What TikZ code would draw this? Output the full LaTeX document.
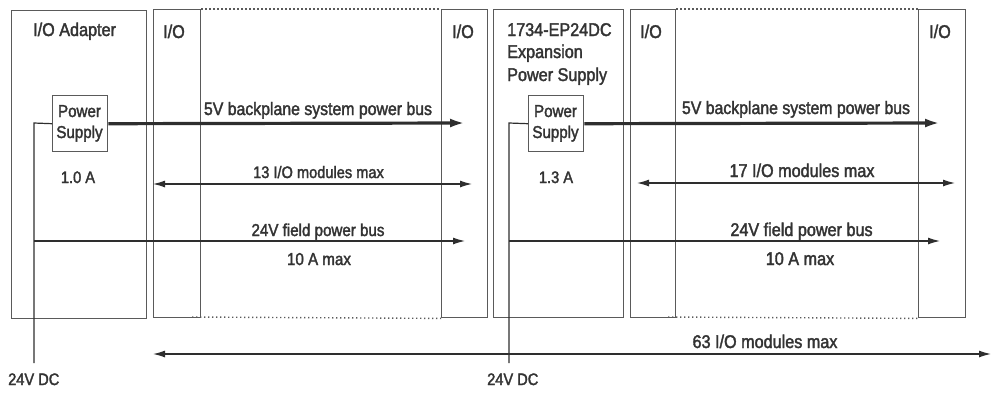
\documentclass[tikz,border=0pt]{standalone}
\usepackage{fontspec}
\newfontfamily\labelfont[FakeStretch=0.88,FakeBold=2]{Liberation Sans}
\usetikzlibrary{arrows.meta}
\definecolor{boxc}{HTML}{5A5A5A}
\definecolor{linec}{HTML}{2E2E2E}
\definecolor{txtc}{HTML}{333333}
\tikzset{
  box/.style={draw=boxc, line width=1.4pt, inner sep=0pt, anchor=north west},
  dotl/.style={draw=boxc, line width=1.4pt, dash pattern=on 1.4pt off 2.6pt},
  bus/.style={draw=linec, line width=3.2pt, -{Latex[length=15pt,width=9pt]}},
  thinl/.style={draw=linec, line width=1.2pt},
  thinar/.style={thinl, -{Latex[length=12pt,width=7pt]}},
  dblar/.style={thinl, {Latex[length=12pt,width=7pt]}-{Latex[length=12pt,width=7pt]}},
  txt/.style={inner sep=0pt, anchor=base, text=txtc, font=\labelfont\fontsize{18.4}{21}\selectfont},
  txts/.style={txt, font=\labelfont\fontsize{17.2}{20}\selectfont},
  txtm/.style={txt, font=\labelfont\fontsize{18}{21}\selectfont},
  txtd/.style={txt, font=\labelfont\fontsize{16.6}{20}\selectfont},
}
\begin{document}
\begin{tikzpicture}[x=1pt,y=-1pt]
\useasboundingbox (0,0) rectangle (992,392);
% boxes
\node[box, minimum width=135pt, minimum height=308pt] (adp) at (11,10) {};
\node[box, minimum width=47pt, minimum height=308pt] (io1) at (153,9) {};
\node[box, minimum width=46pt, minimum height=308pt] (io2) at (441,9) {};
\node[box, minimum width=130pt, minimum height=308pt] (exp) at (493,9) {};
\node[box, minimum width=45pt, minimum height=308pt] (io3) at (630,9) {};
\node[box, minimum width=47pt, minimum height=308pt] (io4) at (918,9) {};
\node[box, minimum width=55pt, minimum height=56pt] (ps1) at (52,95) {};
\node[box, minimum width=55pt, minimum height=56pt] (ps2) at (528,95) {};
% dotted continuation lines
\coordinate (d1s) at (192,317);
\coordinate (d2s) at (668,317);
\draw[dotl] (io1.north east) -- (io2.north west);
\draw[dotl] (d1s) -- (io2.south west);
\draw[dotl] (io3.north east) -- (io4.north west);
\draw[dotl] (d2s) -- (io4.south west);
% texts
\node[txt, anchor=base west] (tadp) at (33,36) {I/O Adapter};
\node[txt] (tio1) at (174,38) {I/O};
\node[txt] (tio2) at (463,38) {I/O};
\node[txt] (tio3) at (651,38) {I/O};
\node[txt] (tio4) at (940,38) {I/O};
\node[txt, anchor=base west] (texp1) at (507,36) {1734-EP24DC};
\node[txt, anchor=base west] (texp2) at (507,58) {Expansion};
\node[txt, anchor=base west] (texp3) at (507,81) {Power Supply};
\node[txts] (tps1a) at (79.5,117) {Power};
\node[txts] (tps1b) at (79.5,138) {Supply};
\node[txts] (tps2a) at (555.5,117) {Power};
\node[txts] (tps2b) at (555.5,138) {Supply};
\node[txtd] (ta1) at (78,183) {1.0 A};
\node[txtd] (ta2) at (556,183) {1.3 A};
\node[txtm] (tbus1) at (318,115) {5V backplane system power bus};
\node[txtm] (tbus2) at (796,114) {5V backplane system power bus};
\node[txtd] (t13) at (318.5,178) {13 I/O modules max};
\node[txt] (t17) at (802,177) {17 I/O modules max};
\node[txts] (tf1) at (318,236) {24V field power bus};
\node[txts] (tm1) at (319,265) {10 A max};
\node[txt] (tf2) at (801.5,236) {24V field power bus};
\node[txt] (tm2) at (800,265) {10 A max};
\node[txt] (t63) at (765,348) {63 I/O modules max};
\node[txtd, anchor=base west] (tdc1) at (8,385) {24V DC};
\node[txtd, anchor=base west] (tdc2) at (487,385) {24V DC};
% coordinates
\coordinate (b1e) at (465,123);
\coordinate (b2e) at (940,123);
\coordinate (f1a) at (34,123);
\coordinate (f1b) at (34,363);
\coordinate (f1m) at (34,241);
\coordinate (f1e) at (465,241);
\coordinate (f2a) at (509,123);
\coordinate (f2b) at (509,363);
\coordinate (f2m) at (509,241);
\coordinate (f2e) at (940,241);
\coordinate (m13a) at (153,184);
\coordinate (m13b) at (472,184);
\coordinate (m17a) at (637,183);
\coordinate (m17b) at (955,183);
\coordinate (m63a) at (153,354);
\coordinate (m63b) at (991,354);
% connectors
\draw[bus] (ps1.east) -- (b1e);
\draw[bus] (ps2.east) -- (b2e);
\draw[thinl] (ps1.west) -- (f1a) -- (f1b);
\draw[thinl] (ps2.west) -- (f2a) -- (f2b);
\draw[thinar] (f1m) -- (f1e);
\draw[thinar] (f2m) -- (f2e);
\draw[dblar] (m13a) -- (m13b);
\draw[dblar] (m17a) -- (m17b);
\draw[dblar] (m63a) -- (m63b);
\end{tikzpicture}
\end{document}
